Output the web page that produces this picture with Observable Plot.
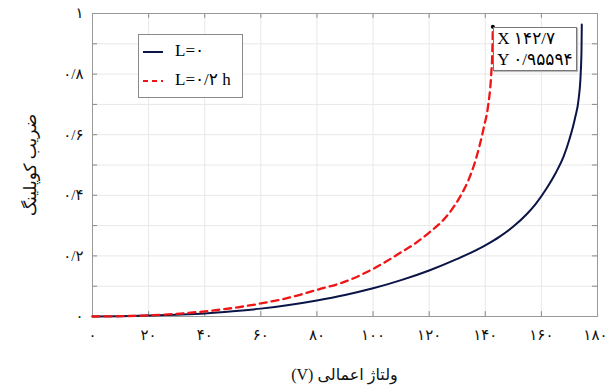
<!DOCTYPE html>
<html>
<head>
<meta charset="utf-8">
<script src="https://cdn.jsdelivr.net/npm/d3@7"></script>
<script src="https://cdn.jsdelivr.net/npm/@observablehq/plot@0.6"></script>
<style>
  body { margin: 0; background: #fff; }
  #wrap { position: relative; width: 606px; height: 385px; overflow: hidden; font-family: "Liberation Serif", "DejaVu Sans", serif; }
  .lbl { position: absolute; font-size: 16px; color: #111; white-space: nowrap; }
  #legend { position: absolute; background: #fff; border: 1px solid #8a8a8a; box-sizing: border-box; }
  .row { position: absolute; left: 0; display: flex; align-items: center; font-size: 17px; }
  #tip { position: absolute; background: #fff; border: 1px solid #777; box-shadow: 1px 1px 1px #bbb; box-sizing: border-box; font-size: 17px; line-height: 21px; padding: 0 3px; white-space: nowrap; }
</style>
</head>
<body>
<div id="wrap"></div>
<script>
// ---- data ----
const voltageL0 = [0, 10, 20, 30, 40, 50, 60, 70, 80, 90, 100, 110, 120, 130, 140, 145, 150, 155, 158, 162, 165, 168, 170, 172, 173.3, 174, 174.3, 174.4];
const couplingL0 = [0, 0.001, 0.003, 0.006, 0.010, 0.017, 0.026, 0.038, 0.053, 0.071, 0.093, 0.120, 0.152, 0.190, 0.235, 0.263, 0.297, 0.340, 0.372, 0.425, 0.472, 0.530, 0.585, 0.655, 0.720, 0.800, 0.880, 0.964];
const voltageL2 = [0, 10, 20, 30, 40, 50, 60, 70, 80, 90, 100, 110, 115, 120, 125, 128, 131, 134, 136, 138, 139.5, 141, 142.1, 142.5, 142.7];
const couplingL2 = [0, 0.001, 0.004, 0.009, 0.017, 0.028, 0.043, 0.062, 0.088, 0.115, 0.157, 0.212, 0.241, 0.277, 0.318, 0.352, 0.395, 0.450, 0.500, 0.565, 0.625, 0.695, 0.797, 0.870, 0.95594];
const seriesNames = ["L=۰", "L=۰/۲ h"];
const xTicks = [0, 20, 40, 60, 80, 100, 120, 140, 160, 180];
const xTickLabels = ["۰", "۲۰", "۴۰", "۶۰", "۸۰", "۱۰۰", "۱۲۰", "۱۴۰", "۱۶۰", "۱۸۰"];
const yTicks = [0, 0.2, 0.4, 0.6, 0.8, 1];
const yTickLabels = ["۰", "۰/۲", "۰/۴", "۰/۶", "۰/۸", "۱"];
const yGrid = [0, 0.1, 0.2, 0.3, 0.4, 0.5, 0.6, 0.7, 0.8, 0.9, 1];
const tipPoint = {x: 142.7, y: 0.95594};
const tipLabels = ["X ۱۴۲/۷", "Y ۰/۹۵۵۹۴"];
const xLabel = "ولتاژ اعمالی (V)";
const yLabel = "ضریب کوپلینگ";

const colors = ["#0b1446", "#f01515"];

const s0 = voltageL0.map((v, i) => ({v, c: couplingL0[i]}));
const s1 = voltageL2.map((v, i) => ({v, c: couplingL2[i]}));
const xt = xTicks.map((v, i) => ({v, t: xTickLabels[i]}));
const yt = yTicks.map((v, i) => ({v, t: yTickLabels[i]}));

const tl = 0.016, tlx = 1.8;
const plot = Plot.plot({
  width: 606, height: 385,
  marginLeft: 92, marginRight: 9, marginTop: 13, marginBottom: 69,
  style: {fontFamily: '"Liberation Serif", "DejaVu Sans", serif', fontSize: "15px", color: "#111"},
  x: {domain: [0, 180], axis: null},
  y: {domain: [0, 1], axis: null},
  marks: [
    Plot.ruleX(xTicks, {stroke: "#e8e8e8", strokeWidth: 1}),
    Plot.ruleY(yGrid, {stroke: "#e8e8e8", strokeWidth: 1}),
    Plot.ruleX(xTicks, {y1: 0, y2: tl, stroke: "#888"}),
    Plot.ruleX(xTicks, {y1: 1, y2: 1 - tl, stroke: "#888"}),
    Plot.ruleY(yGrid, {x1: 0, x2: tlx, stroke: "#888"}),
    Plot.ruleY(yGrid, {x1: 180, x2: 180 - tlx, stroke: "#888"}),
    Plot.frame({stroke: "#999"}),
    Plot.text(xt.slice(0, -1), {x: "v", y: 0, text: "t", dy: 19, fontSize: 15, fill: "#111"}),
    Plot.text(xt.slice(-1), {x: "v", y: 0, text: "t", dy: 19, dx: 10, textAnchor: "end", fontSize: 15, fill: "#111"}),
    Plot.text(yt, {x: 0, y: "v", text: "t", dx: -9, textAnchor: "end", fontSize: 15, fill: "#111"}),
    Plot.line(s0, {x: "v", y: "c", stroke: colors[0], strokeWidth: 2, curve: "monotone-x"}),
    Plot.line(s1, {x: "v", y: "c", stroke: colors[1], strokeWidth: 2.3, strokeDasharray: "7,5", curve: "monotone-x"}),
    Plot.dot([tipPoint], {x: "x", y: "y", r: 2, fill: "#000"})
  ]
});

const wrap = document.getElementById("wrap");
wrap.appendChild(plot);
const xs = plot.scale("x"), ys = plot.scale("y");

// axis labels
const xl = document.createElement("div");
xl.className = "lbl"; xl.dir = "rtl"; xl.textContent = xLabel;
xl.style.left = ((xs.apply(0) + xs.apply(180)) / 2) + "px";
xl.style.top = "365px";
xl.style.transform = "translateX(-50%)";
wrap.appendChild(xl);

const yl = document.createElement("div");
yl.className = "lbl"; yl.dir = "rtl"; yl.textContent = yLabel;
yl.style.fontSize = "17px";
yl.style.left = "30px";
yl.style.top = ((ys.apply(0) + ys.apply(1)) / 2) + "px";
yl.style.transform = "translate(-50%, -50%) rotate(-90deg)";
wrap.appendChild(yl);

// legend
const lg = document.createElement("div");
lg.id = "legend";
lg.style.left = "138px"; lg.style.top = "34px"; lg.style.width = "105px"; lg.style.height = "64px";
seriesNames.forEach((name, i) => {
  const row = document.createElement("div");
  row.className = "row";
  row.style.top = (i === 0 ? 5 : 34) + "px";
  row.style.left = "4px";
  const dash = i === 0 ? "" : 'stroke-dasharray="5,4"';
  row.innerHTML = `<svg width="24" height="20"><line x1="0" x2="20" y1="11" y2="11" stroke="${colors[i]}" stroke-width="2" ${dash}/></svg><span style="margin-left:8px" dir="ltr">${name}</span>`;
  lg.appendChild(row);
});
wrap.appendChild(lg);

// data tip
const tip = document.createElement("div");
tip.id = "tip";
tip.style.left = (xs.apply(tipPoint.x) + 1) + "px";
tip.style.top = (ys.apply(tipPoint.y) + 1) + "px";
tip.innerHTML = tipLabels.map(t => `<div dir="ltr">${t}</div>`).join("");
wrap.appendChild(tip);
</script>
</body>
</html>
